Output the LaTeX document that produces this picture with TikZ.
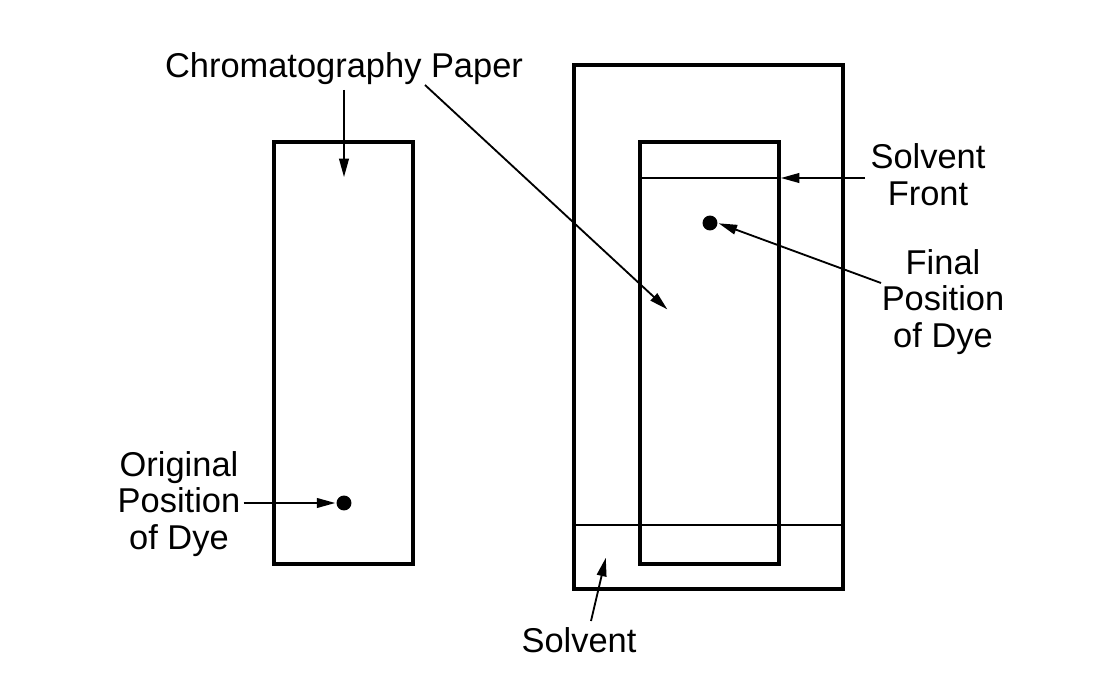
\documentclass[tikz,border=0pt]{standalone}
\usepackage{fontspec}
\setmainfont{Liberation Sans}
\usetikzlibrary{arrows.meta}

\begin{document}
\begin{tikzpicture}
			[line cap=butt,line join=miter,>={Triangle[length=10.5pt,width=5.5pt]},x=0.02cm,y=-0.02cm,
			box/.style={line width=1.75pt},
			thin line/.style={line width=0.8pt},
			pointer/.style={->,line width=1.05pt,shorten >=0.5pt},
			dye/.style={circle,fill=black,inner sep=0pt,minimum size=8.5pt},
			lbl/.style={font=\fontsize{19.6}{21}\selectfont,align=center,inner sep=0pt}]
			\useasboundingbox (0,0) rectangle (1096,682);
			% paper before the run
			\draw [box] (274,142) rectangle (413,564);
			\node [dye] (olddye) at (344,503) {};
			% tank with paper after the run
			\draw [box] (574,65) rectangle (843,589);
			\draw [box] (640,142) rectangle (779,564);
			\draw [thin line] (640,178) -- (779,178);
			\draw [thin line] (574,525) -- (845,525);
			\node [dye] (newdye) at (710,223) {};
			% labels
			\node [lbl] (paper) at (344,69) {Chromatography Paper};
			\node [lbl] (orig) at (179,504) {Original\\Position\\of Dye};
			\node [lbl] (front) at (928,175) {Solvent\\Front};
			\node [lbl] (final) at (943,302) {Final\\Position\\of Dye};
			\node [lbl] (solvent) at (579,640) {Solvent};
			\coordinate (leftpaper) at (344,178);
			\coordinate (rightpaper) at (668,310);
			\coordinate (frontline) at (780,178);
			\coordinate (bath) at (606,557);
			% arrows
			\draw [pointer] (344,90) -- (leftpaper);
			\draw [pointer] (425,85) -- (rightpaper);
			\draw [pointer] (orig.east |- olddye) ++(3,0) -- (olddye.west);
			\draw [pointer] (865,178) -- (frontline);
			\draw [pointer] (881,283) -- (newdye.east);
			\draw [pointer] (591,621) -- (bath);
		\end{tikzpicture}
\end{document}
